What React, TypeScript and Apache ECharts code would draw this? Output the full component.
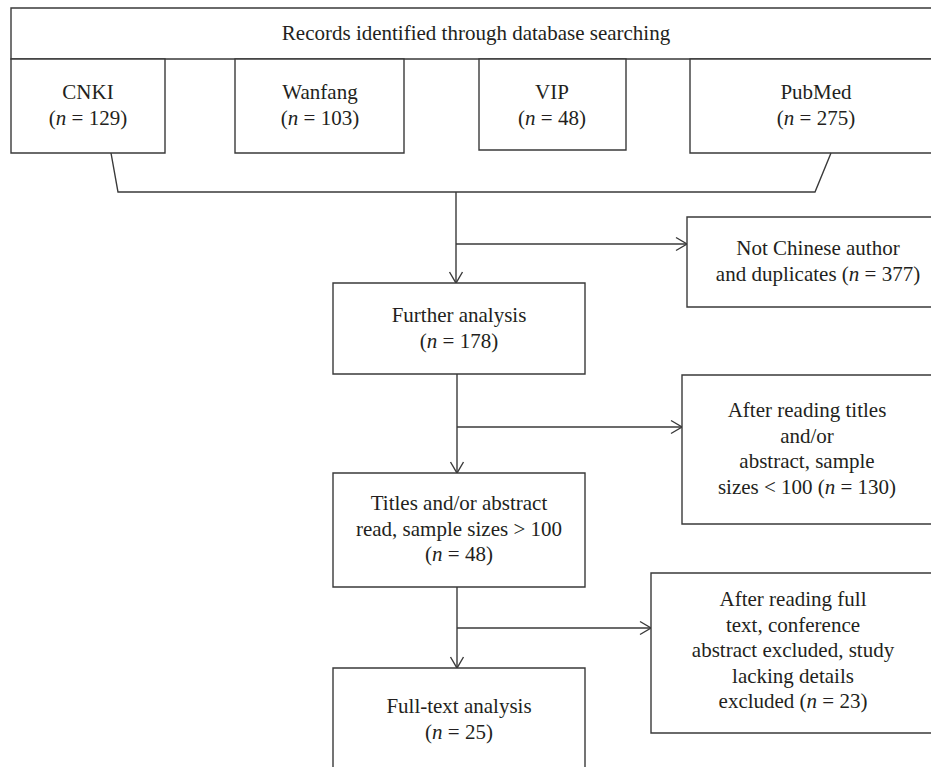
import React, { useEffect, useRef } from "react";
import * as echarts from "echarts";

// ---- Data ----
const headerTitle = "Records identified through database searching";
const sourceNames = ["CNKI", "Wanfang", "VIP", "PubMed"];
const sourceCounts = [129, 103, 48, 275];
const stageLines = [
  ["Further analysis", "(n = {N})"],
  ["Titles and/or abstract", "read, sample sizes > 100", "(n = {N})"],
  ["Full-text analysis", "(n = {N})"],
];
const stageCounts = [178, 48, 25];
const exclusionLines = [
  ["Not Chinese author", "and duplicates (n = {N})"],
  ["After reading titles", "and/or", "abstract, sample", "sizes < 100 (n = {N})"],
  ["After reading full", "text, conference", "abstract excluded, study", "lacking details", "excluded (n = {N})"],
];
const exclusionCounts = [377, 130, 23];

// ---- Layout / style ----
const LINE = "#3a3a3a";
const TXT = "#231f20";
const FONT = '"Liberation Serif", "Times New Roman", serif';
const FS = 21;
const LH = 25.5;
const LW = 1.4;

const sourceBoxes = [
  { x1: 11, y1: 59, x2: 165, y2: 153 },
  { x1: 235, y1: 59, x2: 404, y2: 153 },
  { x1: 479, y1: 59, x2: 626, y2: 150 },
  { x1: 690, y1: 59, x2: 955, y2: 153 },
];
const sourceTextX = [88, 320, 552, 816];

const stageBoxes = [
  { x1: 333, y1: 283, x2: 585, y2: 374, ty: 315 },
  { x1: 333, y1: 473, x2: 585, y2: 587, ty: 503 },
  { x1: 333, y1: 668, x2: 585, y2: 790, ty: 706 },
];
const exclusionBoxes = [
  { x1: 687, y1: 217, x2: 955, y2: 307, tx: 818, ty: 248, ay: 244 },
  { x1: 682, y1: 375, x2: 955, y2: 524, tx: 807, ty: 410, ay: 427 },
  { x1: 651, y1: 573, x2: 955, y2: 733, tx: 793, ty: 599, ay: 628 },
];
const MAINX = 457;

function toRich(s: string) {
  return s.replace("(n =", "({i|n} =");
}

function textEl(str: string, x: number, y: number) {
  return {
    type: "text",
    x,
    y,
    silent: true,
    style: {
      text: toRich(str),
      x: 0,
      y: 0,
      align: "center",
      verticalAlign: "middle",
      fontFamily: FONT,
      fontSize: FS,
      fill: TXT,
      rich: {
        i: { fontFamily: FONT, fontSize: FS, fontStyle: "italic", fill: TXT },
      },
    },
  };
}

function rectEl(b: { x1: number; y1: number; x2: number; y2: number }) {
  return {
    type: "rect",
    silent: true,
    shape: { x: b.x1, y: b.y1, width: b.x2 - b.x1, height: b.y2 - b.y1 },
    style: { fill: "#fff", stroke: LINE, lineWidth: LW },
  };
}

function lineEl(pts: number[][]) {
  return {
    type: "polyline",
    silent: true,
    shape: { points: pts },
    style: { fill: "none", stroke: LINE, lineWidth: LW },
  };
}

function arrowDown(x: number, y: number) {
  return lineEl([
    [x - 6.5, y - 11],
    [x, y],
    [x + 6.5, y - 11],
  ]);
}
function arrowRight(x: number, y: number) {
  return lineEl([
    [x - 11, y - 6.5],
    [x, y],
    [x - 11, y + 6.5],
  ]);
}

function buildGraphic() {
  const els: any[] = [];
  // header box
  els.push(rectEl({ x1: 11, y1: 8, x2: 955, y2: 59 }));
  els.push(textEl(headerTitle, 476, 33));
  // source boxes
  sourceNames.forEach((name, i) => {
    const b = sourceBoxes[i];
    els.push(rectEl(b));
    els.push(textEl(name, sourceTextX[i], 92));
    els.push(textEl("(n = " + sourceCounts[i] + ")", sourceTextX[i], 118));
  });
  // funnel
  els.push(lineEl([[111, 153], [118, 192], [815, 192], [831, 153]]));
  // main vertical flow
  els.push(lineEl([[MAINX - 1, 192], [MAINX - 1, 283]]));
  els.push(arrowDown(MAINX - 1, 283));
  els.push(lineEl([[MAINX, 374], [MAINX, 473]]));
  els.push(arrowDown(MAINX, 473));
  els.push(lineEl([[MAINX, 587], [MAINX, 668]]));
  els.push(arrowDown(MAINX, 668));

  // stage boxes
  stageLines.forEach((lines, i) => {
    const b = stageBoxes[i];
    els.push(rectEl(b));
    lines.forEach((l, k) => {
      els.push(textEl(l.replace("{N}", String(stageCounts[i])), (b.x1 + b.x2) / 2, b.ty + k * LH));
    });
  });

  // exclusion boxes + branches
  exclusionLines.forEach((lines, i) => {
    const b = exclusionBoxes[i];
    const sx = i === 0 ? MAINX - 1 : MAINX;
    els.push(lineEl([[sx, b.ay], [b.x1, b.ay]]));
    els.push(arrowRight(b.x1, b.ay));
    els.push(rectEl(b));
    lines.forEach((l, k) => {
      els.push(textEl(l.replace("{N}", String(exclusionCounts[i])), b.tx, b.ty + k * LH));
    });
  });
  return els;
}

export default function App() {
  const ref = useRef<HTMLDivElement>(null);
  useEffect(() => {
    if (!ref.current) return;
    const chart = echarts.init(ref.current, null, { renderer: "svg" });
    chart.setOption({
      animation: false,
      backgroundColor: "#ffffff",
      graphic: { elements: buildGraphic() },
    });
    return () => chart.dispose();
  }, []);
  return (
    <div
      ref={ref}
      style={{ position: "fixed", left: 0, top: 0, width: 931, height: 767, background: "#fff" }}
    />
  );
}
